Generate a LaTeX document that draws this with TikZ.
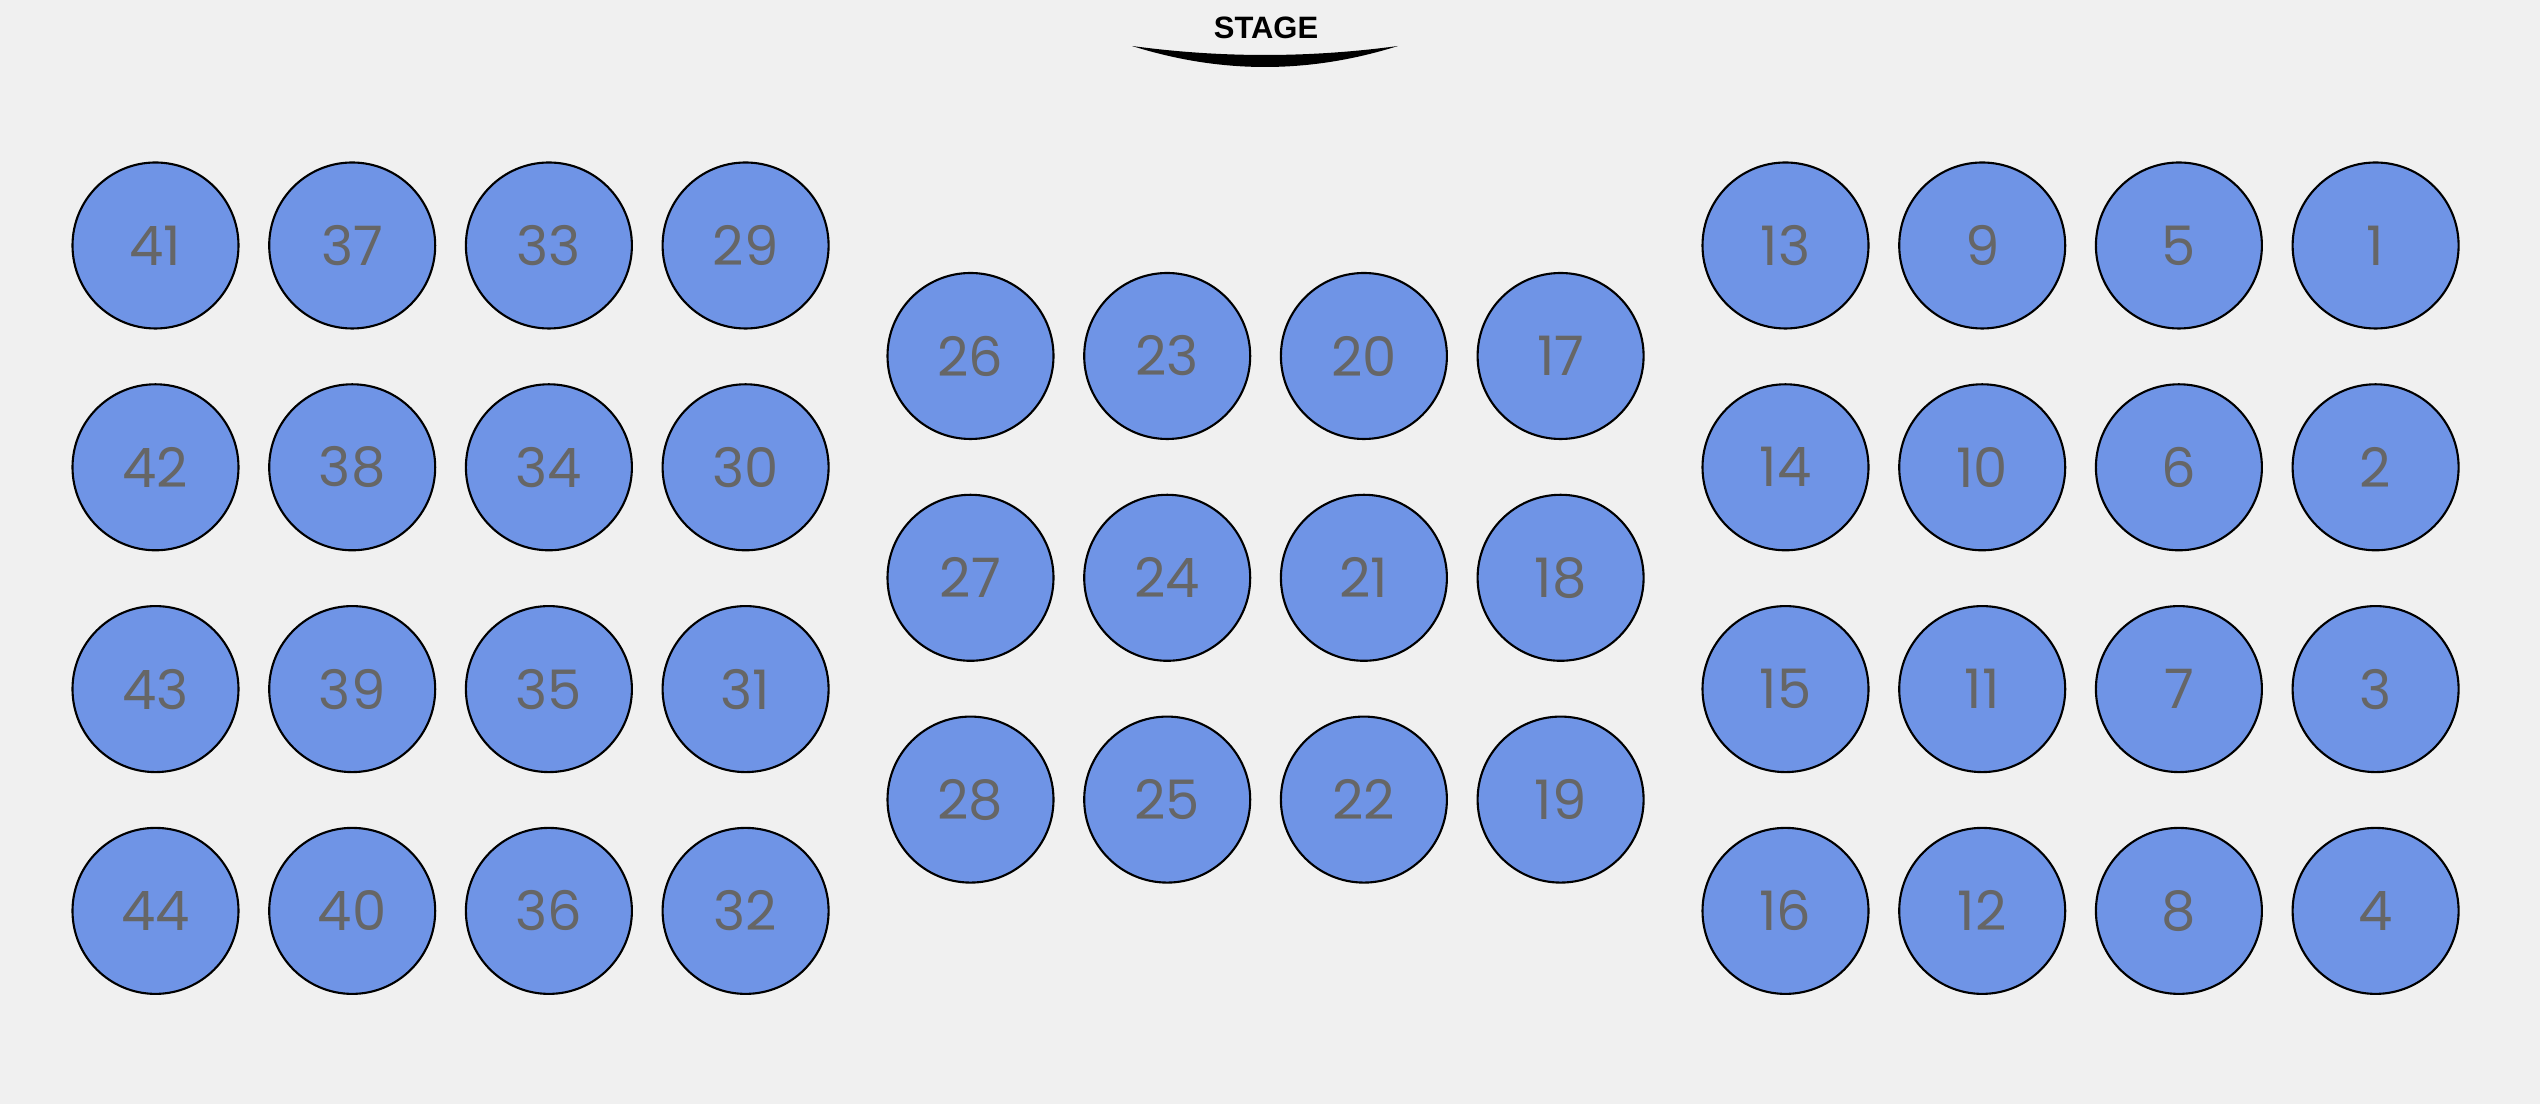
\documentclass[tikz,border=0pt]{standalone}
\usepackage{fontspec}
\usepackage{xcolor}
\usepackage{tikz}
\usetikzlibrary{positioning}
\newfontfamily\seatfont{Poppins}
\newfontfamily\stagefont{Liberation Sans}
\definecolor{bgHall}{HTML}{F0F0F0}
\definecolor{seatFill}{HTML}{6F94E6}
\definecolor{seatText}{HTML}{666666}

\begin{document}
\begin{tikzpicture}[
    node distance=0.558cm and 0.307cm,
    seat/.style={circle, draw=black, fill=seatFill, line width=0.6pt,
                 minimum size=1.66cm, inner sep=0pt, outer sep=0pt,
                 font=\seatfont\fontsize{15.5}{15.5}\selectfont, text=seatText},
    stagelabel/.style={font=\stagefont\bfseries\fontsize{8.8}{8.8}\selectfont, text=black},
]
\fill[bgHall] (0,0) rectangle (25.4,-11.04);
\useasboundingbox (0,0) rectangle (25.4,-11.04);

% stage
\node[stagelabel] (stage) at (12.66,-0.28) {STAGE};
\fill[black] (11.32,-0.46) .. controls (12.21,-0.58) and (13.09,-0.58) .. (13.98,-0.46)
    .. controls (13.09,-0.74) and (12.21,-0.74) .. (11.32,-0.46) -- cycle;

% left block
\node[seat] (s41) at (1.555,-2.455) {41};
\node[seat, right=of s41] (s37) {37};
\node[seat, right=of s37] (s33) {33};
\node[seat, right=of s33] (s29) {29};
\node[seat, below=of s41] (s42) {42};
\node[seat, right=of s42] (s38) {38};
\node[seat, right=of s38] (s34) {34};
\node[seat, right=of s34] (s30) {30};
\node[seat, below=of s42] (s43) {43};
\node[seat, right=of s43] (s39) {39};
\node[seat, right=of s39] (s35) {35};
\node[seat, right=of s35] (s31) {31};
\node[seat, below=of s43] (s44) {44};
\node[seat, right=of s44] (s40) {40};
\node[seat, right=of s40] (s36) {36};
\node[seat, right=of s36] (s32) {32};

% middle block
\node[seat] (s26) at (9.705,-3.56) {26};
\node[seat, right=of s26] (s23) {23};
\node[seat, right=of s23] (s20) {20};
\node[seat, right=of s20] (s17) {17};
\node[seat, below=of s26] (s27) {27};
\node[seat, right=of s27] (s24) {24};
\node[seat, right=of s24] (s21) {21};
\node[seat, right=of s21] (s18) {18};
\node[seat, below=of s27] (s28) {28};
\node[seat, right=of s28] (s25) {25};
\node[seat, right=of s25] (s22) {22};
\node[seat, right=of s22] (s19) {19};

% right block
\node[seat] (s13) at (17.855,-2.455) {13};
\node[seat, right=of s13] (s9) {9};
\node[seat, right=of s9] (s5) {5};
\node[seat, right=of s5] (s1) {1};
\node[seat, below=of s13] (s14) {14};
\node[seat, right=of s14] (s10) {10};
\node[seat, right=of s10] (s6) {6};
\node[seat, right=of s6] (s2) {2};
\node[seat, below=of s14] (s15) {15};
\node[seat, right=of s15] (s11) {11};
\node[seat, right=of s11] (s7) {7};
\node[seat, right=of s7] (s3) {3};
\node[seat, below=of s15] (s16) {16};
\node[seat, right=of s16] (s12) {12};
\node[seat, right=of s12] (s8) {8};
\node[seat, right=of s8] (s4) {4};

\end{tikzpicture}
\end{document}
